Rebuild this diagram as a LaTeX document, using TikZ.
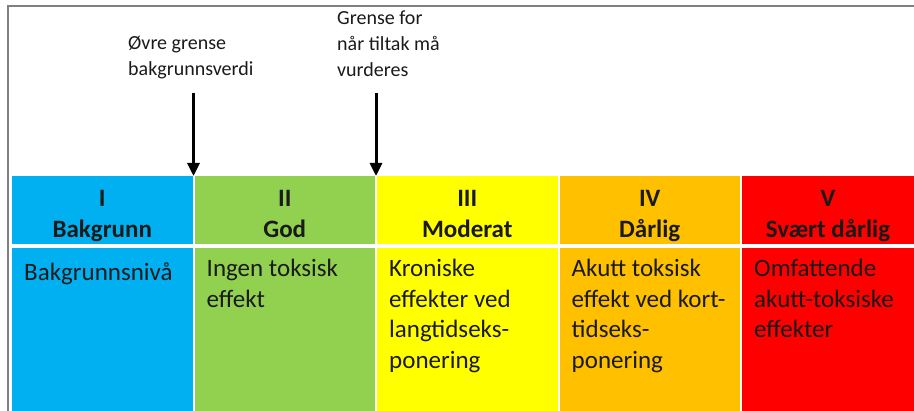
\documentclass[tikz,border=0pt]{standalone}
\usepackage{fontspec}
\setmainfont{Carlito}
\usetikzlibrary{arrows.meta}

\definecolor{klasseI}{HTML}{00B0F0}
\definecolor{klasseII}{HTML}{92D050}
\definecolor{klasseIII}{HTML}{FFFF00}
\definecolor{klasseIV}{HTML}{FFC000}
\definecolor{klasseV}{HTML}{FF0000}
\definecolor{tekst}{HTML}{1A1A1A}

\begin{document}
\begin{tikzpicture}[x=1pt,y=1pt,
	cell/.style={minimum width=180.5pt,inner sep=0pt,outer sep=0pt,anchor=south west},
	head/.style={cell,minimum height=68pt},
	title/.style={anchor=base,inner sep=0pt,align=center,text=tekst,
		font=\fontsize{25}{31}\selectfont\bfseries},
	body/.style={cell,minimum height=163pt},
	desc/.style={anchor=north west,inner sep=0pt,align=left,text=tekst,
		font=\fontsize{25}{30.5}\selectfont,execute at begin node={\strut}},
	note/.style={anchor=north west,inner sep=0pt,align=left,text=tekst,
		font=\fontsize{20}{26}\selectfont,execute at begin node={\strut}},
	pil/.style={line width=3pt,-{Triangle[length=13pt,width=12pt]}}]
	%\draw [help lines, lightgray] (0,0) grid[step=50] (914,411);

	\useasboundingbox (0,0) rectangle (914,411);
	\draw [gray, line width=1.2pt] (8,0) -- (8,405) -- (914,405);

	%% header row
	\node [head,fill=klasseI] (h1) at (12,167) {};
	\node [head,fill=klasseII] (h2) at (194.5,167) {};
	\node [head,fill=klasseIII] (h3) at (377,167) {};
	\node [head,fill=klasseIV] (h4) at (559.5,167) {};
	\node [head,fill=klasseV,minimum width=172pt] (h5) at (742,167) {};

	\node [title] (t1) at ([yshift=-62pt]h1.north) {I\\Bakgrunn};
	\node [title] (t2) at ([yshift=-62pt]h2.north) {II\\God};
	\node [title] (t3) at ([yshift=-62pt]h3.north) {III\\Moderat};
	\node [title] (t4) at ([yshift=-62pt]h4.north) {IV\\Dårlig};
	\node [title] (t5) at ([yshift=-62pt]h5.north) {V\\Svært dårlig};

	%% body row
	\node [body,fill=klasseI] (b1) at (12,0) {};
	\node [body,fill=klasseII] (b2) at (194.5,0) {};
	\node [body,fill=klasseIII] (b3) at (377,0) {};
	\node [body,fill=klasseIV] (b4) at (559.5,0) {};
	\node [body,fill=klasseV,minimum width=172pt] (b5) at (742,0) {};

	\node [desc] (d1) at ([xshift=12pt,yshift=-11pt]b1.north west) {Bakgrunnsnivå};
	\node [desc] (d2) at ([xshift=12pt,yshift=-11pt]b2.north west) {Ingen toksisk\\effekt};
	\node [desc] (d3) at ([xshift=12pt,yshift=-11pt]b3.north west) {Kroniske\\effekter ved\\langtidseks-\\ponering};
	\node [desc] (d4) at ([xshift=12pt,yshift=-11pt]b4.north west) {Akutt toksisk\\effekt ved kort-\\tidseks-\\ponering};
	\node [desc] (d5) at ([xshift=12pt,yshift=-11pt]b5.north west) {Omfattende\\akutt-toksiske\\effekter};

	%% limits
	\node [note] (n1) at (128,375) {Øvre grense\\bakgrunnsverdi};
	\node [note] (n2) at (337,400) {Grense for\\når tiltak må\\vurderes};

	\coordinate (p1) at (193.5,318);
	\coordinate (p2) at (376,318);
	\draw [pil] (p1) -- ([xshift=1pt]h1.north east);
	\draw [pil] (p2) -- ([xshift=1pt]h2.north east);

\end{tikzpicture}
\end{document}
